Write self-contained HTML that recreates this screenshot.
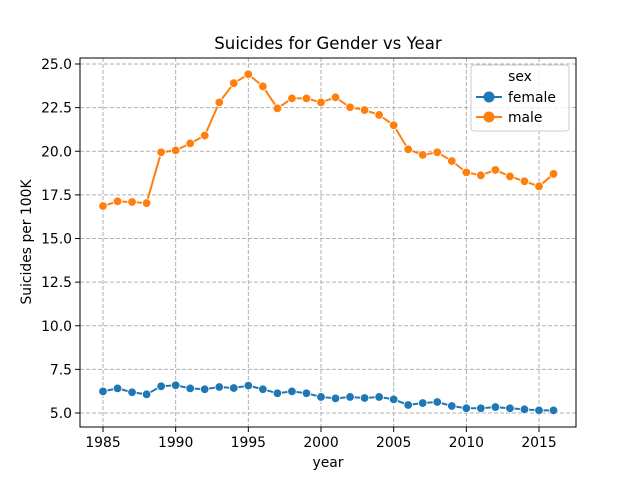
<!DOCTYPE html>
<html><head><meta charset="utf-8"><style>
body{margin:0;background:#fff;}
svg text{font-family:"DejaVu Sans","Liberation Sans",sans-serif;fill:#000;}
</style></head><body>
<svg id="chart" width="640" height="480" xmlns="http://www.w3.org/2000/svg">
<rect width="640" height="480" fill="#fff"/>
<text x="328" y="49" font-size="16.6" text-anchor="middle">Suicides for Gender vs Year</text>
<g id="grid"></g>
<g id="ticks"></g>
<g id="series"></g>
<rect x="80" y="58" width="496" height="369" fill="none" stroke="#000" stroke-width="1"/>
<text x="328" y="467" font-size="13.9" text-anchor="middle">year</text>
<text transform="translate(31,242) rotate(-90)" font-size="13.9" text-anchor="middle">Suicides per 100K</text>
<g>
<rect x="471" y="65" width="98" height="66" rx="3" fill="#fff" fill-opacity="0.8" stroke="#ccc"/>
<text x="520" y="81" font-size="13.9" text-anchor="middle">sex</text>
<g>
<line x1="476" y1="97" x2="502" y2="97" stroke="#1f77b4" stroke-width="2"/>
<circle cx="489" cy="97" r="5.5" fill="#1f77b4"/>
<text x="508" y="102" font-size="13.9">female</text></g>
<g>
<line x1="476" y1="117" x2="502" y2="117" stroke="#ff7f0e" stroke-width="2"/>
<circle cx="489" cy="117" r="5.5" fill="#ff7f0e"/>
<text x="508" y="122" font-size="13.9">male</text></g>
</g>
</svg>
<script>
const years = [1985,1986,1987,1988,1989,1990,1991,1992,1993,1994,1995,1996,1997,1998,1999,2000,2001,2002,2003,2004,2005,2006,2007,2008,2009,2010,2011,2012,2013,2014,2015,2016];
const maleValues = [16.86,17.13,17.09,17.03,19.94,20.05,20.45,20.9,22.8,23.9,24.41,23.72,22.46,23.03,23.03,22.8,23.09,22.52,22.36,22.08,21.49,20.11,19.79,19.94,19.44,18.79,18.62,18.93,18.56,18.28,17.99,18.7];
const femaleValues = [6.24,6.41,6.19,6.07,6.53,6.59,6.41,6.36,6.49,6.43,6.57,6.36,6.13,6.24,6.13,5.92,5.84,5.92,5.86,5.92,5.78,5.46,5.57,5.63,5.40,5.27,5.27,5.34,5.27,5.21,5.15,5.15];
const xTicks = [1985,1990,1995,2000,2005,2010,2015];
const yTicks = [5.0,7.5,10.0,12.5,15.0,17.5,20.0,22.5,25.0];
const NS="http://www.w3.org/2000/svg";
function xs(v){return 103+(v-1985)*(436/30);}
function ys(v){return 413-(v-5)*(349/20);}
function mk(t,a,p){const e=document.createElementNS(NS,t);for(const k in a)e.setAttribute(k,a[k]);p.appendChild(e);return e;}
const grid=document.getElementById('grid'),ticks=document.getElementById('ticks'),ser=document.getElementById('series');
xTicks.forEach(t=>{const x=xs(t);
 const g=mk('line',{x1:x,x2:x,y1:58,y2:427,stroke:'#b0b0b0','stroke-dasharray':'4,2','stroke-width':1},grid);
 
 
 mk('line',{x1:x,x2:x,y1:427,y2:432,stroke:'#000'},ticks);
 const tx=mk('text',{x:x,y:447,'font-size':13.9,'text-anchor':'middle'},ticks);tx.textContent=t;
 
 
});
yTicks.forEach(t=>{const y=ys(t);
 const g=mk('line',{x1:80,x2:576,y1:y,y2:y,stroke:'#b0b0b0','stroke-dasharray':'4,2','stroke-width':1},grid);
 
 
 mk('line',{x1:75,x2:80,y1:y,y2:y,stroke:'#000'},ticks);
 const tx=mk('text',{x:72,y:y+5,'font-size':13.9,'text-anchor':'end'},ticks);tx.textContent=t.toFixed(1);
 
 
});
function drawSeries(vals,color,name){
 const g=mk('g',{},ser);
 
 
 const pts=years.map((y,i)=>xs(y)+','+ys(vals[i])).join(' ');
 mk('polyline',{points:pts,fill:'none',stroke:color,'stroke-width':2},g);
 years.forEach((y,i)=>{const c=mk('circle',{cx:xs(y),cy:ys(vals[i]),r:4.3,fill:color,stroke:'#fff','stroke-width':0.8},g);
  
  });
}
drawSeries(femaleValues,'#1f77b4','female');
drawSeries(maleValues,'#ff7f0e','male');
</script>
</body></html>
